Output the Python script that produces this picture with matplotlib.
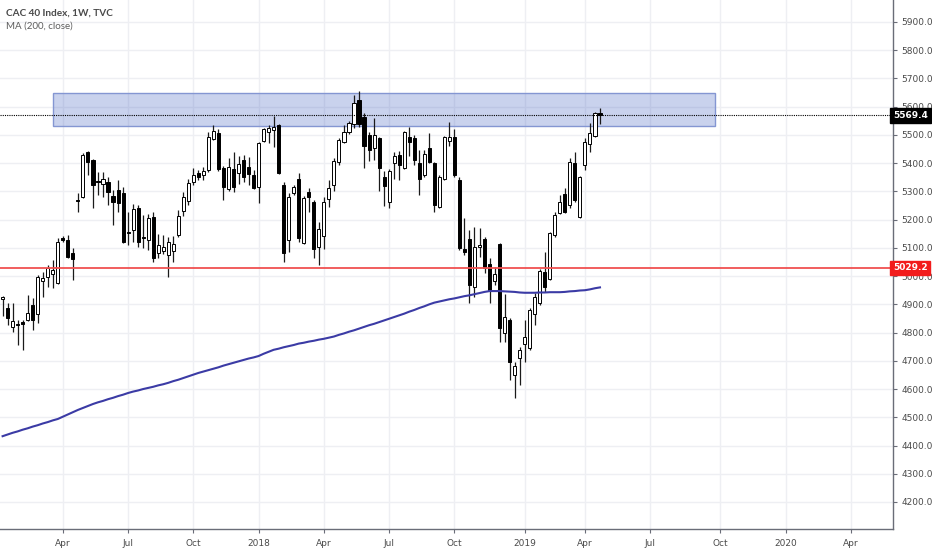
import numpy as np
import pandas as pd
import matplotlib
matplotlib.use('Agg')
from matplotlib import pyplot as plt
from matplotlib import dates as mdt
from matplotlib import transforms as mtr
from matplotlib.patches import Rectangle
import datetime as dt

# weekly candles, CAC 40, starting Monday 2017-01-09
start = '2017-01-09'
opens = [4919, 4887, 4820, 4830, 4837, 4845, 4898, 4866, 4983, 4997,
         5008, 4976, 5135, 5128, 5082, 5270, 5280, 5440, 5411, 5337,
         5326, 5333, 5284, 5305, 5294, 5156, 5163, 5241, 5139, 5128,
         5209, 5082, 5089, 5075, 5089, 5146, 5231, 5266, 5333, 5365,
         5358, 5376, 5486, 5507, 5383, 5309, 5379, 5365, 5411, 5386,
         5358, 5316, 5479, 5510, 5518, 5535, 5323, 5128, 5294, 5344,
         5117, 5298, 5263, 5103, 5142, 5273, 5323, 5404, 5475, 5510,
         5539, 5624, 5564, 5500, 5454, 5489, 5351, 5263, 5401, 5429,
         5383, 5493, 5489, 5401, 5358, 5454, 5401, 5245, 5344, 5479,
         5493, 5340, 5096, 5131, 4961, 5103, 5131, 5043, 4983, 5114,
         4798, 4845, 4650, 4710, 4760, 4745, 4866, 4905, 5015, 4990,
         5146, 5224, 5291, 5252, 5401, 5209, 5394, 5468, 5496, 5578]
highs = [4930, 4905, 4905, 4845, 4845, 4933, 4922, 5004, 5015, 5039,
         5057, 5135, 5142, 5146, 5100, 5294, 5436, 5443, 5415, 5369,
         5369, 5351, 5305, 5340, 5316, 5227, 5255, 5252, 5216, 5220,
         5227, 5149, 5146, 5139, 5142, 5234, 5298, 5344, 5383, 5376,
         5386, 5510, 5535, 5521, 5390, 5418, 5440, 5425, 5429, 5422,
         5376, 5475, 5525, 5535, 5567, 5539, 5333, 5294, 5323, 5365,
         5284, 5312, 5270, 5192, 5280, 5340, 5418, 5489, 5535, 5549,
         5641, 5656, 5578, 5510, 5560, 5493, 5372, 5379, 5440, 5443,
         5514, 5528, 5500, 5447, 5447, 5507, 5404, 5358, 5496, 5546,
         5521, 5351, 5206, 5163, 5174, 5170, 5139, 5064, 5032, 5117,
         4937, 4852, 4696, 4749, 4845, 4887, 4940, 5025, 5085, 5156,
         5227, 5287, 5312, 5418, 5440, 5355, 5489, 5542, 5580, 5595]
lows = [4859, 4827, 4802, 4756, 4738, 4840, 4809, 4834, 4926, 4961,
        4958, 4972, 5121, 5064, 4986, 5227, 5277, 5358, 5241, 5287,
        5280, 5252, 5181, 5227, 5117, 5110, 5121, 5103, 5100, 5093,
        5050, 5064, 5078, 4997, 5050, 5139, 5213, 5252, 5323, 5340,
        5340, 5369, 5482, 5372, 5270, 5301, 5298, 5326, 5333, 5323,
        5309, 5259, 5475, 5471, 5457, 5362, 5050, 5085, 5287, 5121,
        5114, 5227, 5064, 5039, 5096, 5245, 5301, 5394, 5471, 5503,
        5525, 5528, 5383, 5408, 5411, 5301, 5248, 5241, 5344, 5340,
        5379, 5425, 5394, 5287, 5351, 5401, 5227, 5241, 5340, 5461,
        5351, 5093, 5075, 4905, 4926, 5068, 5011, 4905, 4969, 4767,
        4767, 4632, 4568, 4614, 4696, 4738, 4827, 4898, 4944, 4986,
        5139, 5220, 5224, 5241, 5263, 5205, 5376, 5440, 5493, 5539]
closes = [4926, 4852, 4841, 4827, 4830, 4869, 4845, 4997, 4993, 5029,
          5022, 5121, 5128, 5068, 5061, 5266, 5429, 5404, 5323, 5333,
          5344, 5298, 5263, 5259, 5121, 5153, 5238, 5121, 5135, 5206,
          5064, 5110, 5103, 5121, 5114, 5213, 5280, 5330, 5358, 5351,
          5372, 5493, 5514, 5379, 5316, 5386, 5316, 5397, 5351, 5362,
          5312, 5471, 5521, 5525, 5528, 5365, 5082, 5280, 5316, 5135,
          5277, 5280, 5096, 5167, 5263, 5312, 5408, 5482, 5510, 5542,
          5613, 5539, 5461, 5447, 5500, 5383, 5319, 5372, 5425, 5394,
          5510, 5475, 5411, 5344, 5432, 5404, 5252, 5351, 5493, 5493,
          5358, 5100, 5085, 4969, 5103, 5110, 5029, 4951, 5008, 4816,
          4855, 4696, 4682, 4738, 4784, 4880, 4926, 5018, 4961, 5153,
          5216, 5263, 5227, 5404, 5270, 5351, 5475, 5507, 5578, 5569.4]
ma200 = [4433, 4439, 4445, 4450, 4456, 4461, 4467, 4472, 4478, 4483,
         4489, 4494, 4502, 4510, 4518, 4526, 4533, 4540, 4547, 4553,
         4558, 4564, 4569, 4575, 4580, 4586, 4591, 4595, 4600, 4604,
         4608, 4613, 4617, 4622, 4628, 4633, 4639, 4645, 4651, 4657,
         4662, 4667, 4672, 4677, 4683, 4688, 4693, 4698, 4703, 4708,
         4712, 4717, 4725, 4732, 4739, 4743, 4748, 4752, 4756, 4761,
         4764, 4768, 4771, 4775, 4778, 4782, 4786, 4792, 4797, 4803,
         4808, 4814, 4820, 4826, 4831, 4837, 4843, 4849, 4855, 4861,
         4867, 4874, 4880, 4887, 4893, 4900, 4906, 4910, 4914, 4918,
         4921, 4925, 4929, 4932, 4936, 4940, 4944, 4947, 4947, 4947,
         4946, 4945, 4944, 4942, 4941, 4941, 4941, 4942, 4942, 4943,
         4943, 4943, 4944, 4946, 4947, 4949, 4950, 4953, 4957, 4960]

support = 5029.2
last_price = 5569.4
zone_low, zone_high = 5533, 5647
zone_start, zone_end = '2017-03-20', '2019-09-30'

tick_dates = ['2017-04-03', '2017-07-03', '2017-10-02', '2018-01-01', '2018-04-02',
              '2018-07-02', '2018-10-01', '2019-01-07', '2019-04-01', '2019-07-01',
              '2019-10-07', '2020-01-06', '2020-04-06']
tick_labels = ['Apr', 'Jul', 'Oct', '2018', 'Apr', 'Jul', 'Oct', '2019', 'Apr', 'Jul',
               'Oct', '2020', 'Apr']
price_ticks = list(range(4200, 6000, 100))

dates = pd.date_range(start, periods=len(opens), freq='7D')
x = mdt.date2num(dates.to_pydatetime())
o = np.array(opens, float)
h = np.array(highs, float)
l = np.array(lows, float)
c = np.array(closes, float)

fig = plt.figure(figsize=(9.32, 5.5), dpi=100)
ax = fig.add_axes([0, 21 / 550, 893 / 932, 529 / 550])

px_per_day = 5.02 / 7
x0 = x[0] - 2.6 / px_per_day
ax.set_xlim(x0, x0 + 893 / px_per_day)
ax.set_ylim(4104.3, 5977.9)

ax.grid(True, color='#eeeff3', lw=1, zorder=0)
ax.set_axisbelow(True)

zs = mdt.date2num(dt.datetime.strptime(zone_start, '%Y-%m-%d'))
ze = mdt.date2num(dt.datetime.strptime(zone_end, '%Y-%m-%d'))
ax.add_patch(Rectangle((zs, zone_low), ze - zs, zone_high - zone_low,
                       facecolor=(0.25, 0.37, 0.75, 0.28), edgecolor='#8496d2', lw=1, zorder=1))

up = c >= o
ax.vlines(x, l, h, color='#1a1a1a', lw=0.9, zorder=3)
body_h = np.maximum(np.abs(c - o), 2.5)
body_b = np.minimum(o, c)
ax.bar(x[up], body_h[up], bottom=body_b[up], width=4.3, color='white',
       edgecolor='black', lw=0.7, zorder=4)
ax.bar(x[~up], body_h[~up], bottom=body_b[~up], width=4.3, color='black',
       edgecolor='black', lw=0.7, zorder=4)

ax.plot(x, ma200, color='#3b3ba5', lw=1.5, zorder=5)
ax.axhline(support, color='#f05050', lw=1.3, zorder=5)
ax.axhline(last_price, color='black', lw=0.8, ls=(0, (1, 1)), zorder=5)

for s in ['top', 'left']:
    ax.spines[s].set_visible(False)
for s in ['right', 'bottom']:
    ax.spines[s].set_color('#6a6d78')
    ax.spines[s].set_linewidth(1)

ax.yaxis.tick_right()
ax.set_yticks(price_ticks)
ax.set_yticklabels(['%.1f' % v for v in price_ticks])
ax.set_xticks(mdt.date2num([dt.datetime.strptime(d, '%Y-%m-%d') for d in tick_dates]))
ax.set_xticklabels(tick_labels)
ax.tick_params(axis='both', colors='#6a6d78', labelcolor='#4a4a4a', labelsize=6.5,
               length=3, width=0.8)
ax.tick_params(axis='y', pad=3)
ax.tick_params(axis='x', pad=4)

tr = mtr.blended_transform_factory(ax.transAxes, ax.transData)
ax.text(1.0, last_price, '%.1f' % last_price, transform=tr, ha='left', va='center',
        fontsize=6.5, color='white', fontweight='bold', clip_on=False, zorder=10,
        bbox=dict(boxstyle='square,pad=0.3', fc='black', ec='black'))
ax.text(1.0, support, '%.1f' % support, transform=tr, ha='left', va='center',
        fontsize=6.5, color='white', fontweight='bold', clip_on=False, zorder=10,
        bbox=dict(boxstyle='square,pad=0.3', fc='#f21c1c', ec='#f21c1c'))

fig.text(6 / 932, 1 - 13 / 550, 'CAC 40 Index, 1W, TVC', fontsize=7.2, color='#4a4a4a',
         family='Lato', fontweight='bold', va='center', ha='left')
fig.text(6 / 932, 1 - 26 / 550, 'MA (200, close)', fontsize=7, color='#5e5e5e',
         family='Lato', va='center', ha='left')

fig.savefig('out.png', dpi=100)
